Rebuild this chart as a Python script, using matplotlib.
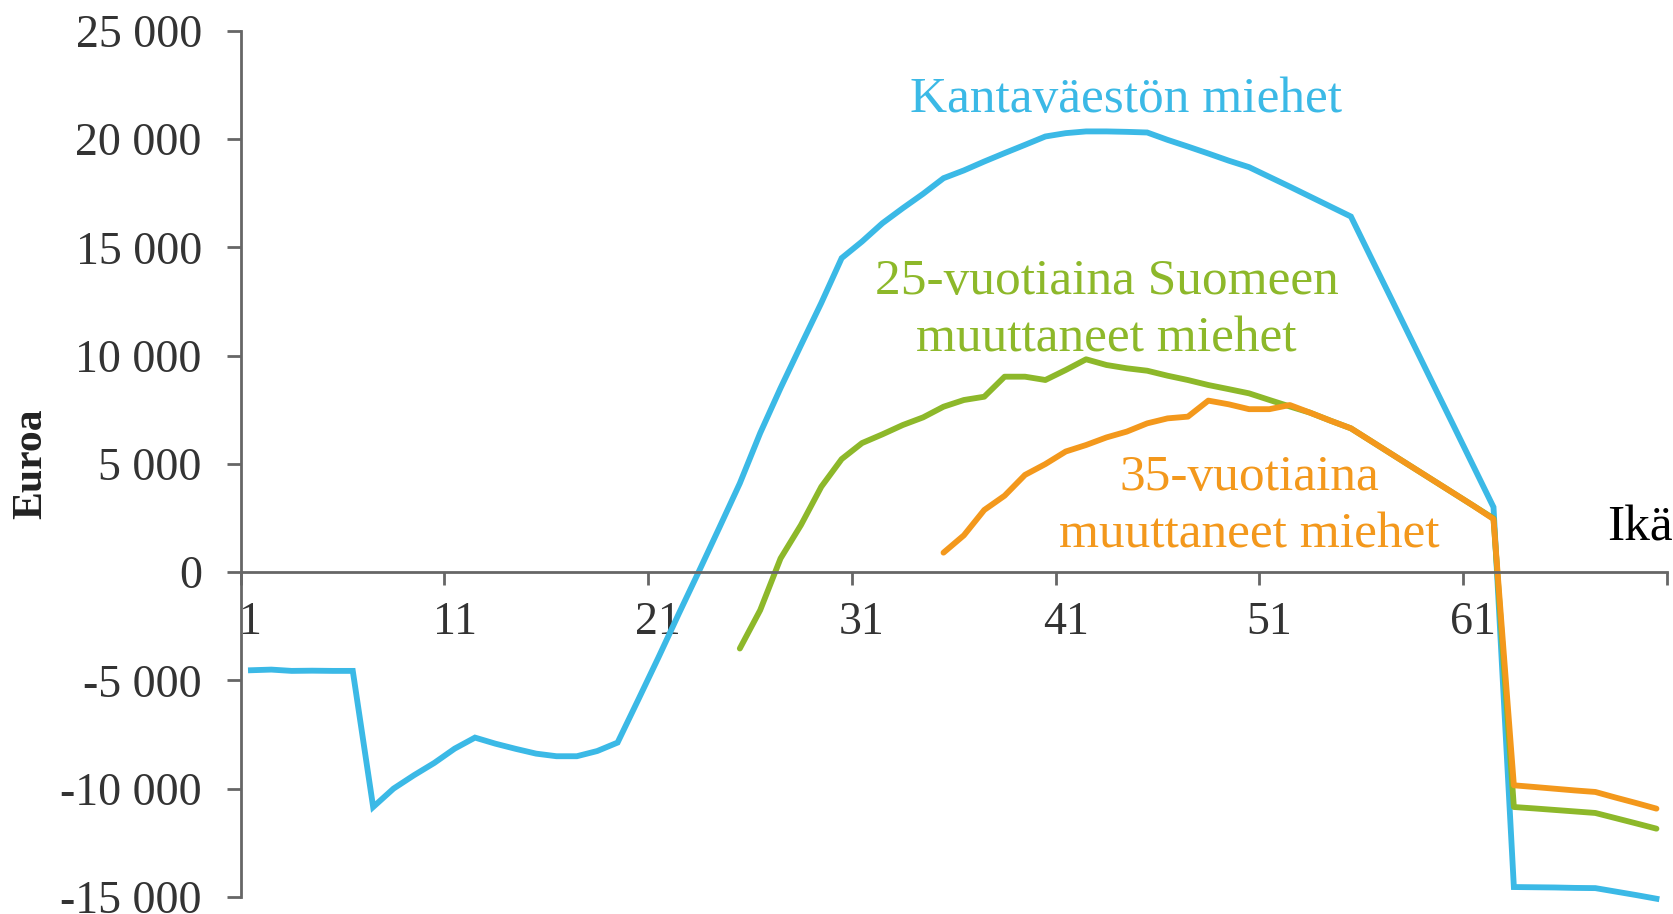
import matplotlib.pyplot as plt
import numpy as np

# ikä 1..70
ages = list(range(1, 71))

# Kantaväestön miehet (euroa)
kanta = [-4530, -4500, -4560, -4550, -4560, -4560, -10845, -9995, -9380, -8810,
         -8150, -7640, -7920, -8160, -8380, -8500, -8500, -8260, -7870, -5920,
         -3950, -1930, 50, 2065, 4100, 6420, 8500, 10475, 12430, 14500,
         15265, 16110, 16805, 17470, 18190, 18550, 18960, 19350, 19730, 20116,
         20270, 20350, 20350, 20330, 20300, 19960, 19650, 19330, 19000, 18700,
         18250, 17800, 17340, 16880, 16420, 14500, 12590, 10670, 8750, 6840,
         4920, 3000, -14540, -14550, -14560, -14580, -14590, -14750, -14910, -15080]

# 25-vuotiaina Suomeen muuttaneet miehet (alkaa iästä 25)
ages25 = list(range(25, 71))
muutt25 = [-3527, -1756, 633, 2172, 3942, 5220, 5960, 6363, 6793, 7147,
           7638, 7948, 8100, 9025, 9025, 8872, 9334, 9828, 9565, 9412,
           9300, 9070, 8870, 8640, 8450, 8256, 7950, 7650, 7361, 6992,
           6640, 6046, 5451, 4857, 4263, 3669, 3074, 2480, -10845, -10910,
           -10980, -11050, -11120, -11360, -11600, -11845]

# 35-vuotiaina muuttaneet miehet (alkaa iästä 35)
ages35 = list(range(35, 71))
muutt35 = [900, 1700, 2870, 3530, 4490, 4990, 5570, 5870, 6220, 6490,
           6870, 7100, 7180, 7920, 7750, 7525, 7525, 7717, 7361, 6992,
           6640, 6046, 5451, 4857, 4263, 3669, 3074, 2450, -9843, -9920,
           -10000, -10080, -10150, -10410, -10660, -10920]

y_ticks = [-15000, -10000, -5000, 0, 5000, 10000, 15000, 20000, 25000]
y_tick_labels = ['-15 000', '-10 000', '-5 000', '0', '5 000', '10 000',
                 '15 000', '20 000', '25 000']
x_tick_labels = ['1', '11', '21', '31', '41', '51', '61']

blue = '#3BB9E6'
green = '#8DB82A'
orange = '#F3981C'
axcol = '#666666'

plt.rcParams['font.family'] = ['Liberation Serif', 'DejaVu Serif']

fig = plt.figure(figsize=(16.73, 9.14), dpi=100)
ax = fig.add_axes([0.1439, 0.0186, 0.9962 - 0.1439, 0.9664 - 0.0186])

ax.plot(ages, kanta, color=blue, lw=4.2, solid_joinstyle='miter', clip_on=False)
ax.plot(ages25, muutt25, color=green, lw=4.2, solid_capstyle='round', clip_on=False)
ax.plot(ages35, muutt35, color=orange, lw=4.2, solid_capstyle='round', clip_on=False)

ax.set_xlim(0.5, 70.5)
ax.set_ylim(-15000, 25000)

for s in ['top', 'right']:
    ax.spines[s].set_visible(False)
ax.spines['bottom'].set_position(('data', 0))
for s in ['left', 'bottom']:
    ax.spines[s].set_color(axcol)
    ax.spines[s].set_linewidth(2)

ax.set_yticks(y_ticks)
ax.set_yticklabels(y_tick_labels)
ax.tick_params(axis='y', direction='out', length=10, width=2, color=axcol,
               pad=18, labelsize=33, labelcolor='#333333')

# ticks between categories, labels at category centres
ax.set_xticks(np.arange(0.5, 71, 10))
ax.set_xticklabels([])
ax.tick_params(axis='x', which='major', direction='out', length=9.5, width=2, color=axcol)
ax.set_xticks(np.arange(1, 62, 10), minor=True)
ax.set_xticklabels(x_tick_labels, minor=True)
ax.tick_params(axis='x', which='minor', length=0, pad=21, labelsize=33, labelcolor='#333333')

fs = 37
ax.text(43.97, 21830, 'Kantaväestön miehet', color=blue, fontsize=fs,
        ha='center', va='center')
ax.text(43.0, 12080, '25-vuotiaina Suomeen\nmuuttaneet miehet', color=green,
        fontsize=fs, ha='center', va='center', multialignment='center', linespacing=1.3)
ax.text(50.0, 3020, '35-vuotiaina\nmuuttaneet miehet', color=orange,
        fontsize=fs, ha='center', va='center', multialignment='center', linespacing=1.3)
ax.text(67.56, 1479, 'Ikä', color='black', fontsize=fs, ha='left', va='baseline',
        clip_on=False)

fig.text(31 / 1673, 1 - 464 / 914, 'Euroa', rotation=90, fontsize=30,
         fontweight='bold', ha='center', va='center', color='#222222')

fig.savefig('out.png', dpi=100)
